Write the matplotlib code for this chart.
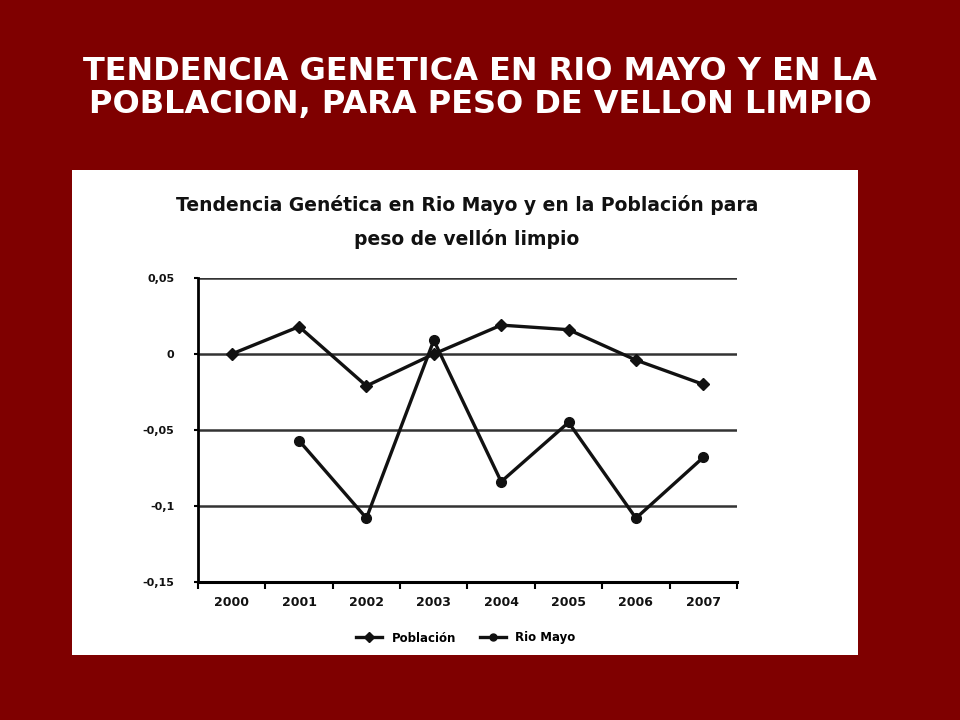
import matplotlib.pyplot as plt
import matplotlib.patches as mpatches
import numpy as np
from matplotlib.lines import Line2D

years = ["2000", "2001", "2002", "2003", "2004", "2005", "2006", "2007"]
poblacion = [0.0, 0.018, -0.021, 0.0, 0.019, 0.016, -0.004, -0.020]
rio_mayo = [np.nan, -0.057, -0.108, 0.009, -0.084, -0.045, -0.108, -0.068]
y_ticks = [0.05, 0.0, -0.05, -0.1, -0.15]
y_labels = ["0,05", "0", "-0,05", "-0,1", "-0,15"]

slide_title = ["TENDENCIA GENETICA EN RIO MAYO Y EN LA",
               "POBLACION, PARA PESO DE VELLON LIMPIO"]
chart_title = ["Tendencia Genética en Rio Mayo y en la Población para",
               "peso de vellón limpio"]

BG = "#7f0000"

fig = plt.figure(figsize=(9.6, 7.2), dpi=100, facecolor=BG)

# slide title, two lines
for line, ypx in zip(slide_title, [71, 105]):
    fig.text(0.5, 1 - ypx / 720, line, ha="center", va="center", color="white",
             fontsize=23, fontweight="bold", family="DejaVu Sans")

# white panel holding the scanned chart
panel = mpatches.Rectangle((72 / 960, 1 - 655 / 720), (858 - 72) / 960, (655 - 170) / 720,
                           transform=fig.transFigure, facecolor="white", edgecolor="none",
                           zorder=-1)
fig.patches.append(panel)

for line, ypx in zip(chart_title, [205, 239]):
    fig.text(467 / 960, 1 - ypx / 720, line, ha="center", va="center", color="#111111",
             fontsize=13.5, fontweight="bold", family="DejaVu Sans")

ax = fig.add_axes([198 / 960, 1 - 582 / 720, (737 - 198) / 960, (582 - 278) / 720])
ax.set_facecolor("white")
x = np.arange(len(years))

ax.plot(x, poblacion, color="#111111", lw=2.4, marker="D", ms=6, zorder=3)
ax.plot(x, rio_mayo, color="#111111", lw=2.4, marker="o", ms=7, zorder=3)

ax.set_xlim(-0.5, len(years) - 0.5)
ax.set_ylim(-0.15, 0.05)
ax.set_yticks(y_ticks)
ax.set_yticklabels(y_labels, fontsize=8, fontweight="bold", color="#111111")
for yv in y_ticks:
    ax.axhline(yv, color="#333333", lw=1.8, zorder=1)

ax.set_xticks(x)
ax.set_xticklabels(years, fontsize=9, fontweight="bold", color="#111111")
ax.set_xticks(np.arange(-0.5, len(years)), minor=True)
ax.tick_params(axis="x", which="major", length=0, pad=10)
ax.tick_params(axis="x", which="minor", length=5, width=1.5, direction="out")
ax.tick_params(axis="y", length=3, width=1.5, pad=14)

for s in ["top", "right"]:
    ax.spines[s].set_visible(False)
ax.spines["left"].set_linewidth(2)
ax.spines["bottom"].set_linewidth(2.2)

handles = [
    Line2D([], [], color="#111111", lw=2.4, marker="D", ms=5, label="Población"),
    Line2D([], [], color="#111111", lw=2.4, marker="o", ms=5, label="Rio Mayo"),
]
fig.legend(handles=handles, loc="center", bbox_to_anchor=(466 / 960, 1 - 638 / 720),
           ncol=2, frameon=False, handlelength=2.2, columnspacing=2,
           prop={"weight": "bold", "size": 8.5})

fig.savefig("out.png", dpi=100, facecolor=BG)
